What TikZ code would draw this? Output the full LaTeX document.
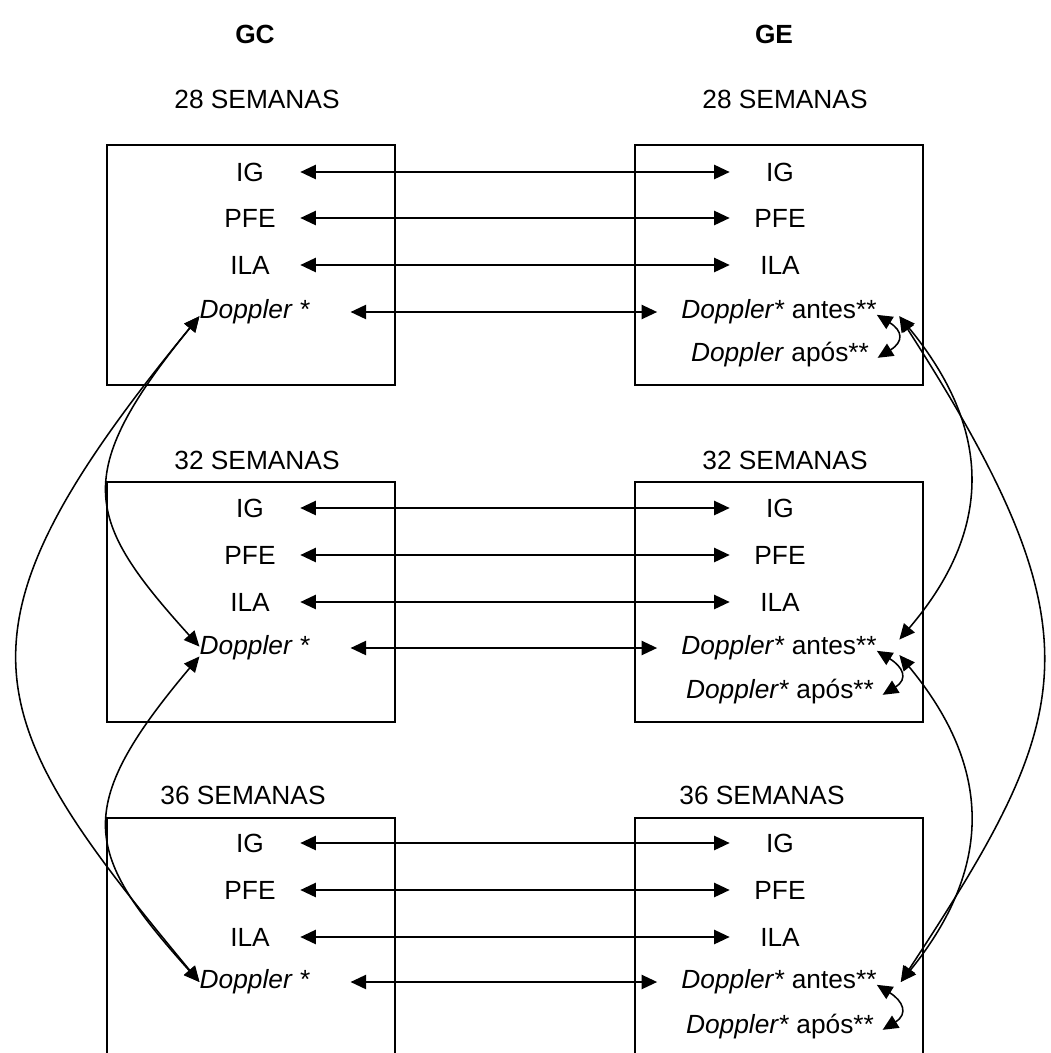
\documentclass[tikz,border=0pt]{standalone}
\usepackage{fontspec}
\setmainfont{Liberation Sans}
\usetikzlibrary{arrows.meta}

\begin{document}
\begin{tikzpicture}[x=0.025cm, y=-0.025cm,
    font=\fontsize{18.7pt}{22pt}\selectfont,
    >={Triangle[length=11pt,width=10pt]},
    head/.style={font=\fontsize{18.7pt}{22pt}\selectfont\bfseries},
    lbl/.style={inner sep=0pt, minimum width=2.5cm},
    dop/.style={inner sep=0pt},
    box/.style={line width=1.3pt},
    link/.style={<->, line width=1.4pt},
    arc/.style={<->, line width=1.1pt}]
    \path[use as bounding box] (0,0) rectangle (1051,1053);
    \clip (0,0) rectangle (1051,1053);

    % Group headers
    \node[head] (gc) at (255,34) {GC};
    \node[head] (ge) at (774,34) {GE};

    % 28 weeks
    \node (s28l) at (257,99) {28 SEMANAS};
    \node (s28r) at (785,99) {28 SEMANAS};
    \draw[box] (107,145) rectangle (395,385);
    \draw[box] (635,145) rectangle (923,385);
    \node[lbl] (ig28l) at (250,172) {IG};
    \node[lbl] (pf28l) at (250,218) {PFE};
    \node[lbl] (il28l) at (250,265) {ILA};
    \node[dop] (d28l) at (255,312) {\textit{Doppler} *};
    \node[lbl] (ig28r) at (780,172) {IG};
    \node[lbl] (pf28r) at (780,218) {PFE};
    \node[lbl] (il28r) at (780,265) {ILA};
    \node[dop] (a28r) at (779,312) {\textit{Doppler*} antes**};
    \node[dop] (p28r) at (780,355) {\textit{Doppler} após**};

    % 32 weeks
    \node (s32l) at (257,460) {32 SEMANAS};
    \node (s32r) at (785,460) {32 SEMANAS};
    \draw[box] (107,482) rectangle (395,722);
    \draw[box] (635,482) rectangle (923,722);
    \node[lbl] (ig32l) at (250,508) {IG};
    \node[lbl] (pf32l) at (250,555) {PFE};
    \node[lbl] (il32l) at (250,602) {ILA};
    \node[dop] (d32l) at (255,648) {\textit{Doppler} *};
    \node[lbl] (ig32r) at (780,508) {IG};
    \node[lbl] (pf32r) at (780,555) {PFE};
    \node[lbl] (il32r) at (780,602) {ILA};
    \node[dop] (a32r) at (779,648) {\textit{Doppler*} antes**};
    \node[dop] (p32r) at (780,692) {\textit{Doppler*} após**};

    % 36 weeks
    \node (s36l) at (243,795) {36 SEMANAS};
    \node (s36r) at (762,795) {36 SEMANAS};
    \draw[box] (107,818) rectangle (395,1080);
    \draw[box] (635,818) rectangle (923,1080);
    \node[lbl] (ig36l) at (250,843) {IG};
    \node[lbl] (pf36l) at (250,890) {PFE};
    \node[lbl] (il36l) at (250,937) {ILA};
    \node[dop] (d36l) at (255,982) {\textit{Doppler} *};
    \node[lbl] (ig36r) at (780,843) {IG};
    \node[lbl] (pf36r) at (780,890) {PFE};
    \node[lbl] (il36r) at (780,937) {ILA};
    \node[dop] (a36r) at (779,982) {\textit{Doppler*} antes**};
    \node[dop] (p36r) at (780,1027) {\textit{Doppler*} após**};

    % GC <-> GE
    \draw[link] (ig28l.east) -- (ig28r.west);
    \draw[link] (pf28l.east) -- (pf28r.west);
    \draw[link] (il28l.east) -- (il28r.west);
    \draw[link, shorten <=1cm, shorten >=0.6cm] (d28l.east) -- (a28r.west);
    \draw[link] (ig32l.east) -- (ig32r.west);
    \draw[link] (pf32l.east) -- (pf32r.west);
    \draw[link] (il32l.east) -- (il32r.west);
    \draw[link, shorten <=1cm, shorten >=0.6cm] (d32l.east) -- (a32r.west);
    \draw[link] (ig36l.east) -- (ig36r.west);
    \draw[link] (pf36l.east) -- (pf36r.west);
    \draw[link] (il36l.east) -- (il36r.west);
    \draw[link, shorten <=1cm, shorten >=0.6cm] (d36l.east) -- (a36r.west);

    % antes <-> apos
    \draw[arc] ([yshift=-2pt]a28r.east) .. controls +(26,16) and +(26,-16) .. ([xshift=6pt,yshift=-2pt]p28r.east);
    \draw[arc] ([yshift=-2pt]a32r.east) .. controls +(26,16) and +(26,-16) .. ([xshift=6pt,yshift=-2pt]p32r.east);
    \draw[arc] ([yshift=-2pt]a36r.east) .. controls +(26,16) and +(26,-16) .. ([xshift=6pt,yshift=-2pt]p36r.east);

    % GC Doppler between weeks
    \draw[arc] ([yshift=-3pt]d28l.west) .. controls (70,475) and (85,520) .. ([yshift=1pt]d32l.west);
    \draw[arc] ([yshift=-6pt]d32l.west) .. controls (70,810) and (85,854) .. (d36l.west);
    \draw[arc] ([yshift=-3pt]d28l.west) .. controls (-62,635) and (-22,715) .. (d36l.west);

    % GE Doppler between weeks
    \draw[arc] ([xshift=16pt,yshift=-3pt]a28r.east) .. controls (993,430) and (993,530) .. ([xshift=16pt,yshift=6pt]a32r.east);
    \draw[arc] ([xshift=16pt,yshift=-5pt]a32r.east) .. controls (993,768) and (993,868) .. ([xshift=17pt]a36r.east);
    \draw[arc] ([xshift=16pt,yshift=-3pt]a28r.east) .. controls (1104,635) and (1076,715) .. ([xshift=17pt]a36r.east);
\end{tikzpicture}
\end{document}
